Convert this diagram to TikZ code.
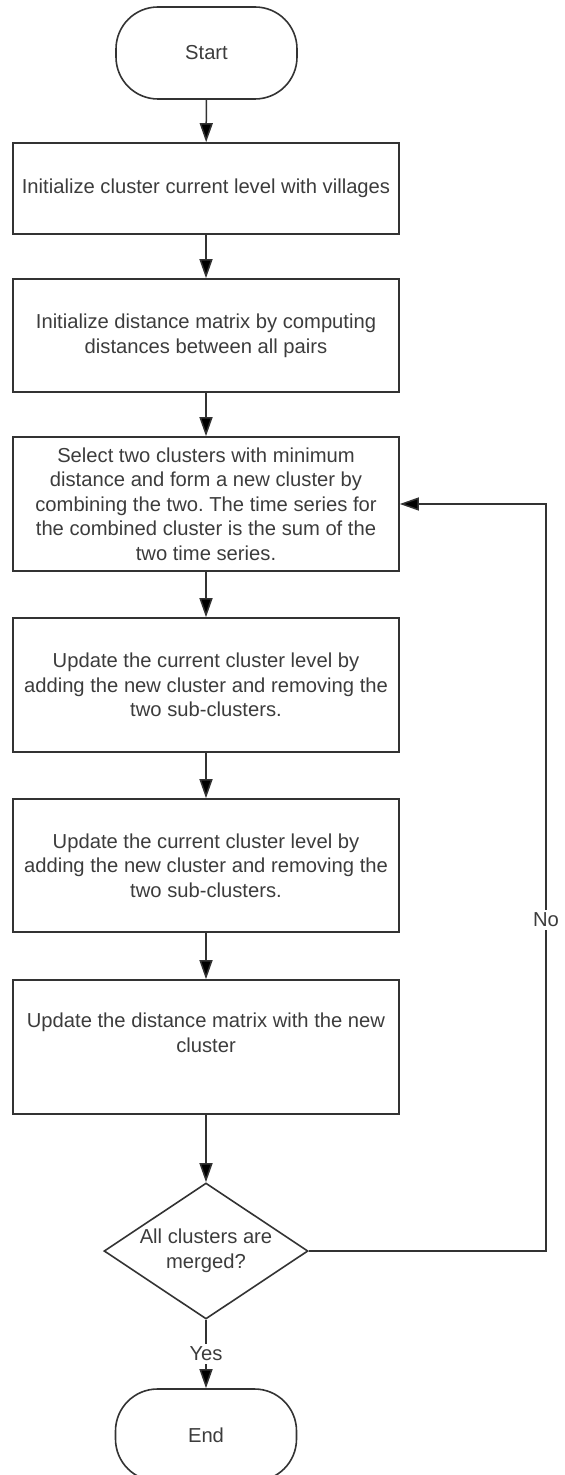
\documentclass[tikz,border=0pt]{standalone}
\usepackage{fontspec}
\setmainfont{Liberation Sans}
\usetikzlibrary{arrows.meta,shapes.geometric}
\definecolor{ln}{HTML}{333333}
\definecolor{tx}{HTML}{3C3C3C}
\frenchspacing
\begin{document}
\begin{tikzpicture}[x=0.5pt,y=-0.5pt,
  every node/.style={font=\fontsize{10.1}{12.3}\selectfont, text=tx},
  term/.style={draw=ln, line width=0.8pt, rounded corners=21pt, minimum width=90.5pt, minimum height=46pt, inner sep=0pt},
  procbox/.style={draw=ln, line width=0.8pt, minimum width=193pt, align=center, inner sep=0pt},
  decbox/.style={draw=ln, line width=0.8pt, diamond, aspect=1.5, minimum width=102pt, minimum height=68pt, inner sep=0pt, align=center},
  arr/.style={draw=ln, line width=0.75pt, -{Triangle[length=9.5pt,width=6.5pt,fill=black]}},
  lbl/.style={fill=white, inner sep=1.5pt}
]
\useasboundingbox (0,0) rectangle (565,1475);
\node[term] (start) at (206.5,53) {Start};
\node[procbox, minimum height=45.5pt] (b1) at (206,188.5) {Initialize cluster current level with villages};
\node[procbox, minimum height=56.5pt] (b2) at (206,335.5) {Initialize distance matrix by computing\\distances between all pairs};
\node[procbox, minimum height=67pt] (b3) at (206,504) {Select two clusters with minimum\\distance and form a new cluster by\\combining the two. The time series for\\the combined cluster is the sum of the\\two time series.};
\node[procbox, minimum height=67pt] (b4) at (206,685) {Update the current cluster level by\\adding the new cluster and removing the\\two sub-clusters.};
\node[procbox, minimum height=66.5pt] (b5) at (206,865.5) {Update the current cluster level by\\adding the new cluster and removing the\\two sub-clusters.};
\node[procbox, minimum height=67pt] (b6) at (206,1047) {Update the distance matrix with the new\\cluster\\[2pt]};
\node[decbox] (dec) at (206,1251) {All clusters are\\merged?};
\node[term] (end) at (206,1435) {End};
\coordinate (c1) at (546,1251);
\coordinate (c2) at (546,504);
\draw[arr] (start) -- (b1);
\draw[arr] (b1) -- (b2);
\draw[arr] (b2) -- (b3);
\draw[arr] (b3) -- (b4);
\draw[arr] (b4) -- (b5);
\draw[arr] (b5) -- (b6);
\draw[arr] (b6) -- (dec);
\draw[arr] (dec) -- node[lbl] {Yes} (end);
\draw[arr] (dec.east) -- (c1) -- node[lbl, pos=0.443] {No} (c2) -- (b3.east);
\end{tikzpicture}
\end{document}
